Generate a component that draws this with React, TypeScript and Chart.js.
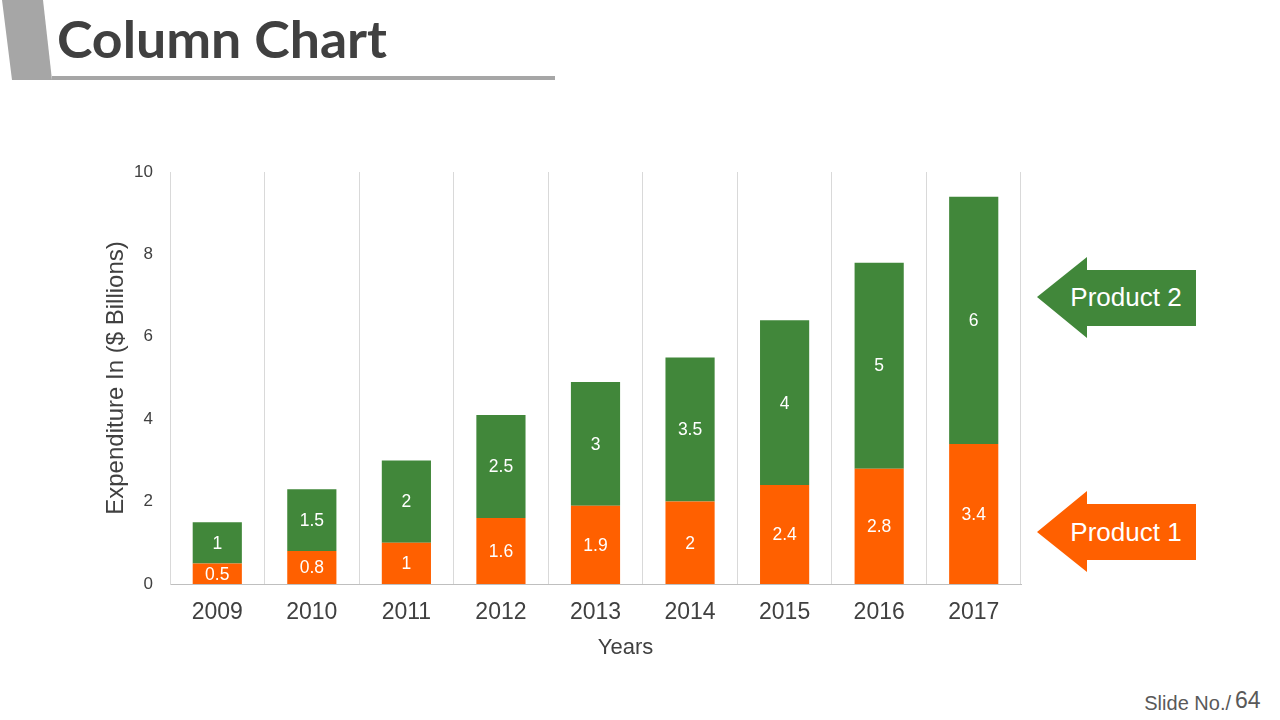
import React, { useEffect, useRef } from "react";
import { Chart, registerables } from "chart.js";

Chart.register(...registerables);

const years = ["2009", "2010", "2011", "2012", "2013", "2014", "2015", "2016", "2017"];
const product1 = [0.5, 0.8, 1, 1.6, 1.9, 2, 2.4, 2.8, 3.4];
const product2 = [1, 1.5, 2, 2.5, 3, 3.5, 4, 5, 6];
const seriesNames = ["Product 1", "Product 2"];
const yTicks = [0, 2, 4, 6, 8, 10];
const xTitle = "Years";
const yTitle = "Expenditure In ($ Billions)";

const GREEN = "#41873A";
const ORANGE = "#FF6000";
const FONT = "'Liberation Sans', Arial, sans-serif";

const labelPlugin = {
  id: "segmentLabels",
  afterDatasetsDraw(chart: any) {
    const { ctx } = chart;
    ctx.save();
    ctx.font = `17.5px ${FONT}`;
    ctx.fillStyle = "#ffffff";
    ctx.textAlign = "center";
    ctx.textBaseline = "middle";
    chart.data.datasets.forEach((ds: any, di: number) => {
      const meta = chart.getDatasetMeta(di);
      meta.data.forEach((el: any, i: number) => {
        const p = el.getCenterPoint();
        ctx.fillText(String(ds.data[i]), p.x, p.y + 1);
      });
    });
    ctx.restore();
  },
};

const xTitlePlugin = {
  id: "xTitleShifted",
  afterDraw(chart: any) {
    const { ctx, chartArea } = chart;
    ctx.save();
    ctx.font = `22px ${FONT}`;
    ctx.fillStyle = "#404040";
    ctx.textAlign = "center";
    ctx.textBaseline = "middle";
    ctx.fillText(xTitle, (chartArea.left + chartArea.right) / 2 + 30, 648);
    ctx.restore();
  },
};

export default function App() {
  const ref = useRef<HTMLCanvasElement | null>(null);

  useEffect(() => {
    if (!ref.current) return;
    const chart = new Chart(ref.current, {
      type: "bar",
      data: {
        labels: years,
        datasets: [
          { label: seriesNames[0], data: product1, backgroundColor: ORANGE, barPercentage: 0.52, categoryPercentage: 1 },
          { label: seriesNames[1], data: product2, backgroundColor: GREEN, barPercentage: 0.52, categoryPercentage: 1 },
        ],
      },
      options: {
        animation: false,
        responsive: false,
        maintainAspectRatio: false,
        layout: { padding: { left: 100, top: 172, right: 259, bottom: 56 } },
        plugins: { legend: { display: false }, tooltip: { enabled: false } },
        scales: {
          x: {
            stacked: true,
            afterFit: (s: any) => { s.height = 80; },
            grid: { display: true, color: "#d9d9d9", drawTicks: false, tickLength: 0, offset: true },
            border: { display: true, color: "#bfbfbf" },
            ticks: { color: "#404040", font: { family: FONT, size: 23 }, padding: 15 },
            title: { display: false, text: xTitle },
          },
          y: {
            stacked: true,
            min: 0,
            max: 10,
            afterFit: (s: any) => { s.width = 70; },
            afterBuildTicks: (s: any) => { s.ticks = yTicks.map((v) => ({ value: v })); },
            grid: { display: false, drawTicks: false, tickLength: 0 },
            border: { display: true, color: "#d9d9d9" },
            ticks: { color: "#404040", font: { family: FONT, size: 17 }, padding: 17 },
            title: { display: true, text: yTitle, color: "#404040", font: { family: FONT, size: 24 }, padding: { top: 2, bottom: 0 } },
          },
        },
      },
      plugins: [labelPlugin, xTitlePlugin],
    });
    return () => chart.destroy();
  }, []);

  return (
    <div style={{ position: "absolute", left: 0, top: 0, width: 1280, height: 720, background: "#ffffff", overflow: "hidden" }}>
      <svg width={1280} height={720} style={{ position: "absolute", left: 0, top: 0 }}>
        <polygon points="2,0 43,0 52,80 12,80" fill="#a6a6a6" />
        <rect x={52} y={76} width={503} height={4} fill="#a6a6a6" />
        <text x={57} y={58} fontFamily="Lato, 'Open Sans', sans-serif" fontWeight={700} fontSize={52} fill="#404040" textLength={330} lengthAdjust="spacingAndGlyphs">Column Chart</text>
        <polygon points="1037,297 1087,257 1087,270 1196,270 1196,326 1087,326 1087,338" fill={GREEN} />
        <text x={1126} y={306} textAnchor="middle" fontFamily={FONT} fontSize={26} fill="#ffffff">{seriesNames[1]}</text>
        <polygon points="1037,532 1087,491 1087,504 1196,504 1196,560 1087,560 1087,572" fill={ORANGE} />
        <text x={1126} y={541} textAnchor="middle" fontFamily={FONT} fontSize={26} fill="#ffffff">{seriesNames[0]}</text>
        <text x={1231} y={710} textAnchor="end" fontFamily={FONT} fontSize={20} fill="#595959">Slide No./</text>
        <text x={1235} y={708} fontFamily={FONT} fontSize={23} fill="#595959">64</text>
      </svg>
      <canvas ref={ref} width={1280} height={720} style={{ position: "absolute", left: 0, top: 0, width: 1280, height: 720 }} />
    </div>
  );
}
